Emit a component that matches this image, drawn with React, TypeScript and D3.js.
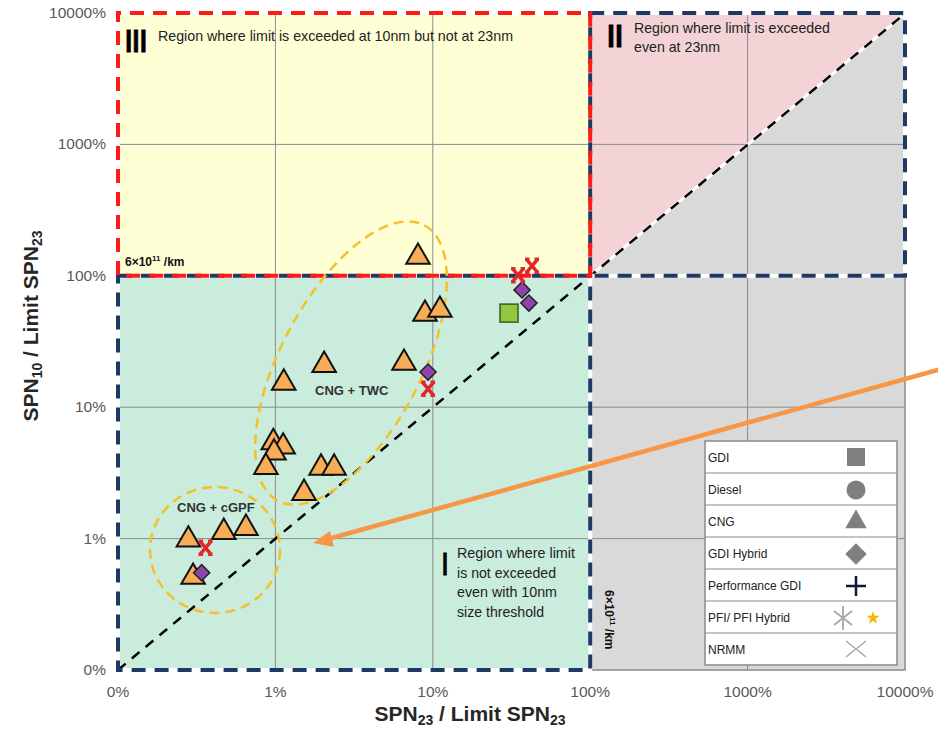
import React from "react";
import * as d3 from "d3";

// Axis ticks (percent of limit) and their printed labels
const tickValues = [0.1, 1, 10, 100, 1000, 10000];
const tickLabels = ["0%", "1%", "10%", "100%", "1000%", "10000%"];

// CNG vehicles (SPN23 % of limit, SPN10 % of limit)
const cngX = [8.05, 8.92, 11.1, 2.04, 6.56, 1.13, 0.97, 1.12, 0.98, 0.87, 1.95, 2.36, 1.52, 0.28, 0.47, 0.65, 0.3];
const cngY = [139, 51.2, 54.9, 20.9, 21.7, 15.3, 5.4, 5.0, 4.5, 3.5, 3.45, 3.45, 2.22, 0.98, 1.12, 1.2, 0.51];

// GDI hybrid vehicles
const hybridX = [0.34, 9.33, 36.9, 40.8];
const hybridY = [0.55, 18.5, 78, 62];

// PFI hybrid vehicles (red markers)
const pfiX = [0.36, 9.33, 42.7, 34.8];
const pfiY = [0.85, 13.8, 119, 101];

// GDI vehicles
const gdiX = [30.5];
const gdiY = [52];

const legendLabels = ["GDI", "Diesel", "CNG", "GDI Hybrid", "Performance GDI", "PFI/ PFI Hybrid", "NRMM"];

const W = 938;
const H = 731;
const FONT = "'Liberation Sans', Arial, sans-serif";

const x = d3.scaleLog().domain([0.1, 10000]).range([118, 905]);
const y = d3.scaleLog().domain([0.1, 10000]).range([670, 13]);

const triPath = d3.symbol().type(d3.symbolTriangle).size(240)() as string;
const diaPath = d3.symbol().type(d3.symbolSquare).size(130)() as string;
const redX = "M-5.5,-6.5L5.5,6.5M5.5,-6.5L-5.5,6.5M-7,-6.5H-2.5M2.5,-6.5H7M-7,6.5H-2.5M2.5,6.5H7";

export default function App() {
  const x0 = x(0.1), x100 = x(100), xMax = x(10000);
  const y0 = y(0.1), y100 = y(100), yMax = y(10000);

  const dash = "14 9";
  const navy = "#1f3864";
  const red = "#ff1a1a";

  const legX = 705, legY = 441, legW = 192, rowH = 32;

  return (
    <svg width={W} height={H} style={{ position: "absolute", left: 0, top: 0, background: "#fff" }} fontFamily={FONT}>
      {/* region fills */}
      <rect x={x100} y={yMax} width={xMax - x100} height={y0 - yMax} fill="#d9d9d9" />
      <polygon points={`${x100},${y100} ${x100},${yMax} ${xMax},${yMax}`} fill="#f3d3d6" />
      <rect x={x0} y={yMax} width={x100 - x0} height={y100 - yMax} fill="#ffffd6" />
      <rect x={x0} y={y100} width={x100 - x0} height={y0 - y100} fill="#c9ecdc" />

      {/* grid */}
      {tickValues.map((v) => (
        <g key={"g" + v}>
          <line x1={x(v)} x2={x(v)} y1={yMax} y2={y0} stroke="#8c8c8c" strokeWidth={1} />
          <line x1={x0} x2={xMax} y1={y(v)} y2={y(v)} stroke="#8c8c8c" strokeWidth={1} />
        </g>
      ))}
      <rect x={x0} y={yMax} width={xMax - x0} height={y0 - yMax} fill="none" stroke="#9a9a9a" strokeWidth={1.5} />

      {/* 1:1 line */}
      <line x1={x100} y1={y100} x2={xMax - 3} y2={yMax + 3} stroke="#fff" strokeWidth={3} />
      <line x1={x0} y1={y0} x2={xMax - 3} y2={yMax + 3} stroke="#000" strokeWidth={2.5} strokeDasharray="10 8" />

      {/* region borders */}
      <g fill="none" strokeWidth={4}>
        <rect x={x0} y={y100} width={x100 - x0} height={y0 - y100} stroke="#fff" />
        <rect x={x100} y={yMax} width={xMax - x100} height={y100 - yMax} stroke="#fff" />
        <rect x={x0} y={yMax} width={x100 - x0} height={y100 - yMax} stroke="#fff" />
        <rect x={x0} y={y100} width={x100 - x0} height={y0 - y100} stroke={navy} strokeDasharray={dash} />
        <rect x={x100} y={yMax} width={xMax - x100} height={y100 - yMax} stroke={navy} strokeDasharray={dash} />
        <rect x={x0} y={yMax} width={x100 - x0} height={y100 - yMax} stroke={red} strokeDasharray={dash} strokeDashoffset={11} />
      </g>

      {/* group ellipses */}
      <g fill="none" stroke="#f5c02c" strokeWidth={2.5} strokeDasharray="10 6">
        <ellipse cx={351} cy={363} rx={156} ry={70} transform="rotate(-62 351 363)" />
        <ellipse cx={215} cy={550} rx={65} ry={63} />
      </g>

      {/* markers */}
      {gdiX.map((v, i) => (
        <rect key={"s" + i} x={x(v) - 9} y={y(gdiY[i]) - 9} width={18} height={18} fill="#92c83e" stroke="#3f5a1c" strokeWidth={1.5} />
      ))}
      {cngX.map((v, i) => (
        <path key={"t" + i} d={triPath} transform={`translate(${x(v)},${y(cngY[i])})`} fill="#f7ad57" stroke="#111" strokeWidth={2} strokeLinejoin="miter" />
      ))}
      {hybridX.map((v, i) => (
        <path key={"d" + i} d={diaPath} transform={`translate(${x(v)},${y(hybridY[i])}) rotate(45)`} fill="#8e44a8" stroke="#222" strokeWidth={1.5} />
      ))}
      {pfiX.map((v, i) => (
        <path key={"x" + i} d={redX} transform={`translate(${x(v)},${y(pfiY[i])})`} fill="none" stroke="#e3262b" strokeWidth={3.5} />
      ))}

      {/* region captions */}
      <text x={125} y={52} fontSize={30} fontWeight={900} fontFamily="'DejaVu Sans', sans-serif" stroke="#000" strokeWidth={0.8} textLength={22} lengthAdjust="spacingAndGlyphs">III</text>
      <text x={158} y={41} fontSize={15} fill="#222" textLength={355} lengthAdjust="spacingAndGlyphs">Region where limit is exceeded at 10nm but not at 23nm</text>

      <text x={607} y={47} fontSize={30} fontWeight={900} fontFamily="'DejaVu Sans', sans-serif" stroke="#000" strokeWidth={0.8} textLength={16} lengthAdjust="spacingAndGlyphs">II</text>
      <text x={634} y={33} fontSize={15} fill="#222" textLength={196} lengthAdjust="spacingAndGlyphs">Region where limit is exceeded</text>
      <text x={634} y={52} fontSize={15} fill="#222" textLength={86} lengthAdjust="spacingAndGlyphs">even at 23nm</text>

      <text x={442} y={575} fontSize={30} fontWeight={900} fontFamily="'DejaVu Sans', sans-serif" stroke="#000" strokeWidth={0.8} textLength={6} lengthAdjust="spacingAndGlyphs">I</text>
      {["Region where limit", "is not exceeded", "even with 10nm", "size threshold"].map((t, i) => (
        <text key={t} x={457} y={558 + i * 19.5} fontSize={15} fill="#222" textLength={[118, 99, 100, 87][i]} lengthAdjust="spacingAndGlyphs">{t}</text>
      ))}

      <text x={125} y={266} fontSize={12} fontWeight="bold" fill="#111">
        6×10<tspan dy={-5} fontSize={8}>11</tspan><tspan dy={5}> /km</tspan>
      </text>
      <text transform="translate(605,590) rotate(90)" fontSize={12} fontWeight="bold" fill="#111">
        6×10<tspan dy={-5} fontSize={8}>11</tspan><tspan dy={5}> /km</tspan>
      </text>

      <text x={315} y={395} fontSize={13} fontWeight="bold" fill="#333">CNG + TWC</text>
      <text x={177} y={512} fontSize={13} fontWeight="bold" fill="#333">CNG + cGPF</text>

      {/* legend */}
      <g>
        <rect x={legX} y={legY} width={legW} height={rowH * 7} fill="#fff" stroke="#8a8a8a" strokeWidth={1.5} />
        {legendLabels.map((l, i) => (
          <g key={l}>
            {i > 0 && <line x1={legX} x2={legX + legW} y1={legY + i * rowH} y2={legY + i * rowH} stroke="#8a8a8a" strokeWidth={1.2} />}
            <text x={legX + 3} y={legY + i * rowH + 21} fontSize={12} fill="#222">{l}</text>
          </g>
        ))}
        <rect x={847} y={legY + 7} width={18} height={18} fill="#7f7f7f" />
        <circle cx={856} cy={legY + rowH + 17} r={9.5} fill="#7f7f7f" />
        <path d={d3.symbol().type(d3.symbolTriangle).size(200)() as string} transform={`translate(856,${legY + 2 * rowH + 17})`} fill="#7f7f7f" />
        <path d={d3.symbol().type(d3.symbolSquare).size(230)() as string} transform={`translate(856,${legY + 3 * rowH + 17}) rotate(45)`} fill="#7f7f7f" />
        <path d="M-10,0H10M0,-10V10" transform={`translate(856,${legY + 4 * rowH + 17})`} stroke="#0d1a33" strokeWidth={2.5} />
        <path d="M0,-12V12M-9,-7L9,7M-9,7L9,-7" transform={`translate(843,${legY + 5 * rowH + 17})`} stroke="#a6a6a6" strokeWidth={1.8} />
        <path d={d3.symbol().type(d3.symbolStar).size(55)() as string} transform={`translate(873,${legY + 5 * rowH + 17})`} fill="#f5b800" />
        <path d="M-10,-8L10,8M-10,8L10,-8" transform={`translate(856,${legY + 6 * rowH + 16})`} stroke="#a6a6a6" strokeWidth={1.5} />
      </g>

      {/* arrow */}
      <line x1={945} y1={368} x2={328} y2={539} stroke="#f79646" strokeWidth={4.5} />
      <path d="M313,543 L330,531 L334,547 Z" fill="#f79646" />

      {/* tick labels */}
      {tickValues.map((v, i) => (
        <text key={"yl" + v} x={106} y={y(v) + 5} textAnchor="end" fontSize={15.5} fill="#595959">{tickLabels[i]}</text>
      ))}
      {tickValues.map((v, i) => (
        <text key={"xl" + v} x={x(v)} y={697} textAnchor="middle" fontSize={15.5} fill="#595959">{tickLabels[i]}</text>
      ))}

      {/* axis titles */}
      <text x={470} y={721} textAnchor="middle" fontSize={21} fontWeight="bold" fill="#262626">
        SPN<tspan fontSize={14} dy={4}>23</tspan><tspan dy={-4}> / Limit SPN</tspan><tspan fontSize={14} dy={4}>23</tspan>
      </text>
      <text transform="translate(38,326) rotate(-90)" textAnchor="middle" fontSize={21} fontWeight="bold" fill="#262626">
        SPN<tspan fontSize={14} dy={4}>10</tspan><tspan dy={-4}> / Limit SPN</tspan><tspan fontSize={14} dy={4}>23</tspan>
      </text>
    </svg>
  );
}
